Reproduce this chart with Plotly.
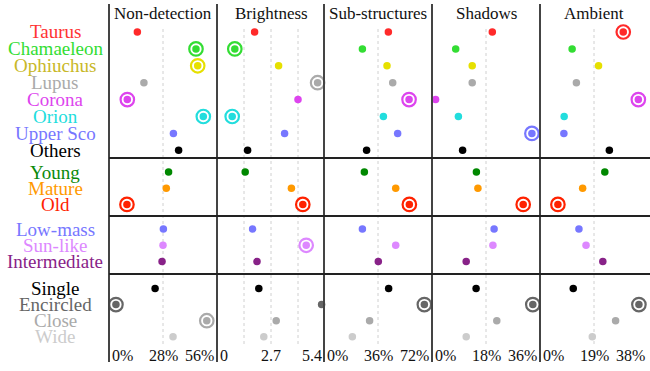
import plotly.graph_objects as go

# ---------------- data ----------------
rows = ["Taurus", "Chamaeleon", "Ophiuchus", "Lupus", "Corona", "Orion", "Upper Sco", "Others",
        "Young", "Mature", "Old",
        "Low-mass", "Sun-like", "Intermediate",
        "Single", "Encircled", "Close", "Wide"]
group_sizes = [8, 3, 3, 4]

dot_colors = ["#ff2a2a", "#33dd33", "#e6e000", "#aaaaaa", "#dd44ee", "#22dddd", "#7777ff", "#000000",
              "#008800", "#ff9900", "#ff2200",
              "#7777ff", "#dd88ff", "#882288",
              "#000000", "#666666", "#aaaaaa", "#cccccc"]
label_colors = ["#ff3333", "#33dd33", "#c8b828", "#aaaaaa", "#dd44ee", "#22dddd", "#7777ff", "#000000",
                "#0a8a0a", "#ff9900", "#ff2200",
                "#7777ff", "#dd88ff", "#882288",
                "#000000", "#666666", "#aaaaaa", "#cccccc"]

panels = ["Non-detection", "Brightness", "Sub-structures", "Shadows", "Ambient"]
panel_max = [56, 5.4, 72, 36, 38]
tick_labels = [["0%", "28%", "56%"], ["0", "2.7", "5.4"], ["0%", "36%", "72%"],
               ["0%", "18%", "36%"], ["0%", "19%", "38%"]]
grid_values = [[28], [1.35, 2.7, 4.05], [36], [18], [19]]

nondetection = [14.7, 45.1, 46.0, 18.1, 9.5, 48.9, 33.4, 36.1, 30.9, 29.7, 9.3,
                28.2, 28.0, 27.5, 23.9, 3.6, 50.7, 33.2]
brightness = [1.88, 0.89, 3.08, 5.03, 4.05, 0.76, 3.38, 1.53, 1.41, 3.72, 4.29,
              1.78, 4.46, 2.0, 2.09, 5.23, 2.96, 2.34]
substructures = [42.9, 25.6, 42.0, 45.8, 56.7, 39.6, 49.1, 28.4, 26.9, 47.8, 56.9,
                 25.6, 47.8, 36.2, 43.1, 66.9, 30.4, 18.9]
shadows = [20.1, 7.9, 13.4, 13.4, 1.2, 8.8, 33.3, 10.2, 14.8, 15.3, 30.4,
           20.7, 20.3, 11.4, 14.7, 33.6, 21.6, 11.4]
ambient = [29.3, 11.3, 20.6, 12.8, 34.6, 8.5, 8.4, 24.4, 22.8, 15.0, 6.3,
           13.7, 16.2, 22.1, 11.7, 34.8, 26.6, 18.4]
panel_values = [nondetection, brightness, substructures, shadows, ambient]

ring_nondetection = ["Chamaeleon", "Ophiuchus", "Corona", "Orion", "Old", "Encircled", "Close"]
ring_brightness = ["Chamaeleon", "Lupus", "Orion", "Old", "Sun-like"]
ring_substructures = ["Corona", "Old", "Encircled"]
ring_shadows = ["Upper Sco", "Old", "Encircled"]
ring_ambient = ["Taurus", "Corona", "Old", "Encircled"]
panel_rings = [ring_nondetection, ring_brightness, ring_substructures, ring_shadows, ring_ambient]

# ---------------- layout constants (pixels) ----------------
W, H = 650, 371
FONT = "Liberation Serif"
edges_px = [109, 217, 324, 432, 540, 650]
group_first_px = [32, 172, 229, 288.5]
group_step_px = [16.9, 16.2, 16.3, 16.1]
separators_px = [158, 216, 274]
grid_top_px, grid_bottom_px = 29, 345
border_top_px, border_bottom_px = 4, 362
title_y_px = 13
tick_y_px = 355
label_x_px = 55

row_y = []
for g, n in enumerate(group_sizes):
    for i in range(n):
        row_y.append(group_first_px[g] + i * group_step_px[g])

fig = go.Figure()
axis_ids = ["x", "x2", "x3", "x4", "x5"]

for p, name in enumerate(panels):
    xa = axis_ids[p]
    vals = panel_values[p]
    ring_idx = [rows.index(r) for r in panel_rings[p]]
    # rings
    fig.add_trace(go.Scatter(
        x=[vals[i] for i in ring_idx], y=[row_y[i] for i in ring_idx],
        xaxis=xa, yaxis="y", mode="markers", cliponaxis=False, hoverinfo="skip",
        marker=dict(size=13.5, color="white", symbol="circle",
                    line=dict(width=2.2, color=[dot_colors[i] for i in ring_idx])),
        showlegend=False))
    # dots
    fig.add_trace(go.Scatter(
        x=vals, y=row_y, xaxis=xa, yaxis="y", mode="markers", cliponaxis=False,
        marker=dict(size=7.5, color=dot_colors, line=dict(width=0)),
        text=rows, hovertemplate="%{text}: %{x}<extra></extra>", showlegend=False))

    # gridlines
    for gv in grid_values[p]:
        fig.add_shape(type="line", xref=xa, yref="y", x0=gv, x1=gv,
                      y0=grid_top_px, y1=grid_bottom_px,
                      line=dict(color="#d0d0d0", width=1, dash="dot"), layer="below")

    # title
    left_f = edges_px[p] / W
    right_f = (edges_px[p] + 108) / W
    fig.add_annotation(text=name, xref="paper", yref="paper", x=(left_f + right_f) / 2,
                       y=1 - title_y_px / H, showarrow=False, xanchor="center", yanchor="middle",
                       font=dict(family=FONT, size=17, color="#111111"))
    # tick labels
    t0, t1, t2 = tick_labels[p]
    fig.add_annotation(text=t0, xref="paper", yref="paper", x=left_f, y=1 - tick_y_px / H,
                       showarrow=False, xanchor="left", yanchor="middle", xshift=1,
                       font=dict(family=FONT, size=16, color="#111111"))
    fig.add_annotation(text=t1, xref=xa, yref="paper", x=panel_max[p] / 2, y=1 - tick_y_px / H,
                       showarrow=False, xanchor="center", yanchor="middle",
                       font=dict(family=FONT, size=16, color="#111111"))
    fig.add_annotation(text=t2, xref="paper", yref="paper", x=right_f, y=1 - tick_y_px / H,
                       showarrow=False, xanchor="right", yanchor="middle", xshift=-1,
                       font=dict(family=FONT, size=16, color="#111111"))

# row labels
for i, r in enumerate(rows):
    fig.add_annotation(text=r, xref="paper", yref="paper", x=label_x_px / W, y=1 - row_y[i] / H,
                       showarrow=False, xanchor="center", yanchor="middle",
                       font=dict(family=FONT, size=19, color=label_colors[i]))

# panel borders (no right-hand border, as in the reference)
for e in edges_px[:-1]:
    fig.add_shape(type="line", xref="paper", yref="y", x0=e / W, x1=e / W,
                  y0=border_top_px, y1=border_bottom_px,
                  line=dict(color="#444444", width=2))
# group separators
for s in separators_px:
    fig.add_shape(type="line", xref="paper", yref="y", x0=edges_px[0] / W, x1=1,
                  y0=s, y1=s, line=dict(color="#222222", width=2))

layout_axes = {}
for p in range(5):
    key = "xaxis" if p == 0 else f"xaxis{p + 1}"
    layout_axes[key] = dict(domain=[edges_px[p] / W, min(edges_px[p + 1] / W, 1.0)],
                            range=[0, panel_max[p] * (edges_px[p + 1] - edges_px[p]) / 108],
                            anchor="y", showgrid=False, zeroline=False, showline=False,
                            showticklabels=False, ticks="", fixedrange=True)

fig.update_layout(
    width=W, height=H, autosize=False,
    margin=dict(l=0, r=0, t=0, b=0, pad=0),
    paper_bgcolor="white", plot_bgcolor="white",
    font=dict(family=FONT),
    yaxis=dict(domain=[0, 1], range=[H, 0], anchor="x", showgrid=False, zeroline=False,
               showline=False, showticklabels=False, ticks="", fixedrange=True),
    showlegend=False,
    **layout_axes,
)

fig.write_html("out.html")
